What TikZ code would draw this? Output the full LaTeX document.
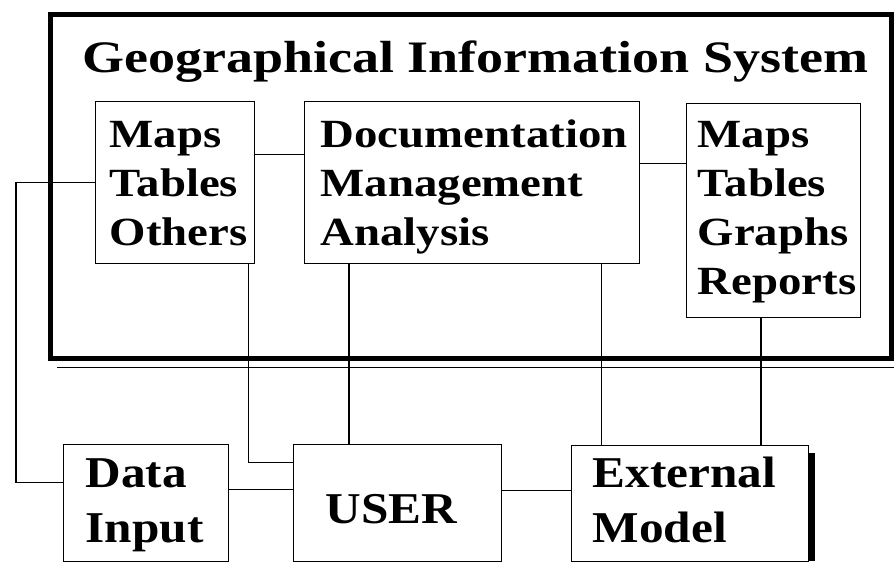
\documentclass[tikz,border=0pt]{standalone}
\usepackage{fontspec}
\setmainfont{Liberation Serif}[FakeStretch=1.12]
\newfontfamily\headfont{Liberation Serif}[FakeStretch=1.2]
\newfontfamily\itemfont{Liberation Serif}[FakeStretch=1.17]
\begin{document}
\begin{tikzpicture}[x=1pt,y=-1pt,
  line join=miter,
  wire/.style={line width=1.4pt},
  box/.style={draw,line width=1.4pt,anchor=north west,inner ysep=0pt,
    font=\itemfont\fontsize{40}{49}\selectfont\bfseries},
  bigbox/.style={box,font=\rmfamily\fontsize{44}{55}\selectfont\bfseries}]
\useasboundingbox (0,0) rectangle (894,563);

% outer frame of the system and its shadow line
\draw[line width=5pt] (50,14) rectangle (891,358);
\draw[line width=1.5pt] (57,367.5) -- (894,367.5);
\node[anchor=base west,inner sep=0pt,font=\headfont\fontsize{45}{50}\selectfont\bfseries]
  (title) at (82,72) {Geographical Information System};

% boxes inside the system
\node[box,inner xsep=14pt,text height=46pt,text depth=116pt] (inp) at (95,101)
  {\parbox[t]{131pt}{Maps\\Tables\\Others}};
\node[box,inner xsep=16pt,text height=46pt,text depth=116pt] (doc) at (304,101)
  {\parbox[t]{303pt}{Documentation\\Management\\Analysis}};
\node[box,inner xsep=11pt,text height=44pt,text depth=170pt] (out) at (686,103)
  {\parbox[t]{152pt}{Maps\\Tables\\Graphs\\Reports}};

% boxes below the system
\node[bigbox,inner xsep=22pt,text height=43pt,text depth=74pt] (data) at (63,444)
  {\parbox[t]{121pt}{Data\\Input}};
\node[bigbox,inner xsep=32pt,text height=79pt,text depth=38pt] (user) at (293,444)
  {\parbox[t]{144pt}{USER}};
\fill (809,453) rectangle (815,561);
\node[bigbox,fill=white,inner xsep=21pt,text height=42pt,text depth=74pt] (ext) at (571,445)
  {\parbox[t]{195pt}{External\\Model}};

% connectors
\coordinate (lx) at (16,0);
\draw[wire] ([yshift=28pt]inp.east) -- ([yshift=28pt]inp.east -| doc.west);
\draw[wire] ([yshift=19pt]doc.east) -- ([yshift=19pt]doc.east -| out.west);
\draw[wire] (inp.west) -- (inp.west -| lx) |- ([yshift=21pt]data.west);
\draw[wire] ([xshift=-7pt]inp.south east) |- ([yshift=41pt]user.west);
\draw[wire] ([xshift=45pt]doc.south west) -- ([xshift=45pt]doc.south west |- user.north);
\draw[wire] ([xshift=-39pt]doc.south east) -- ([xshift=-39pt]doc.south east |- ext.north);
\draw[wire] ([xshift=75pt]out.south west) -- ([xshift=75pt]out.south west |- ext.north);
\draw[wire] ([yshift=14pt]data.east) -- ([yshift=14pt]data.east -| user.west);
\draw[wire] ([yshift=13pt]user.east) -- ([yshift=13pt]user.east -| ext.west);
\end{tikzpicture}
\end{document}
